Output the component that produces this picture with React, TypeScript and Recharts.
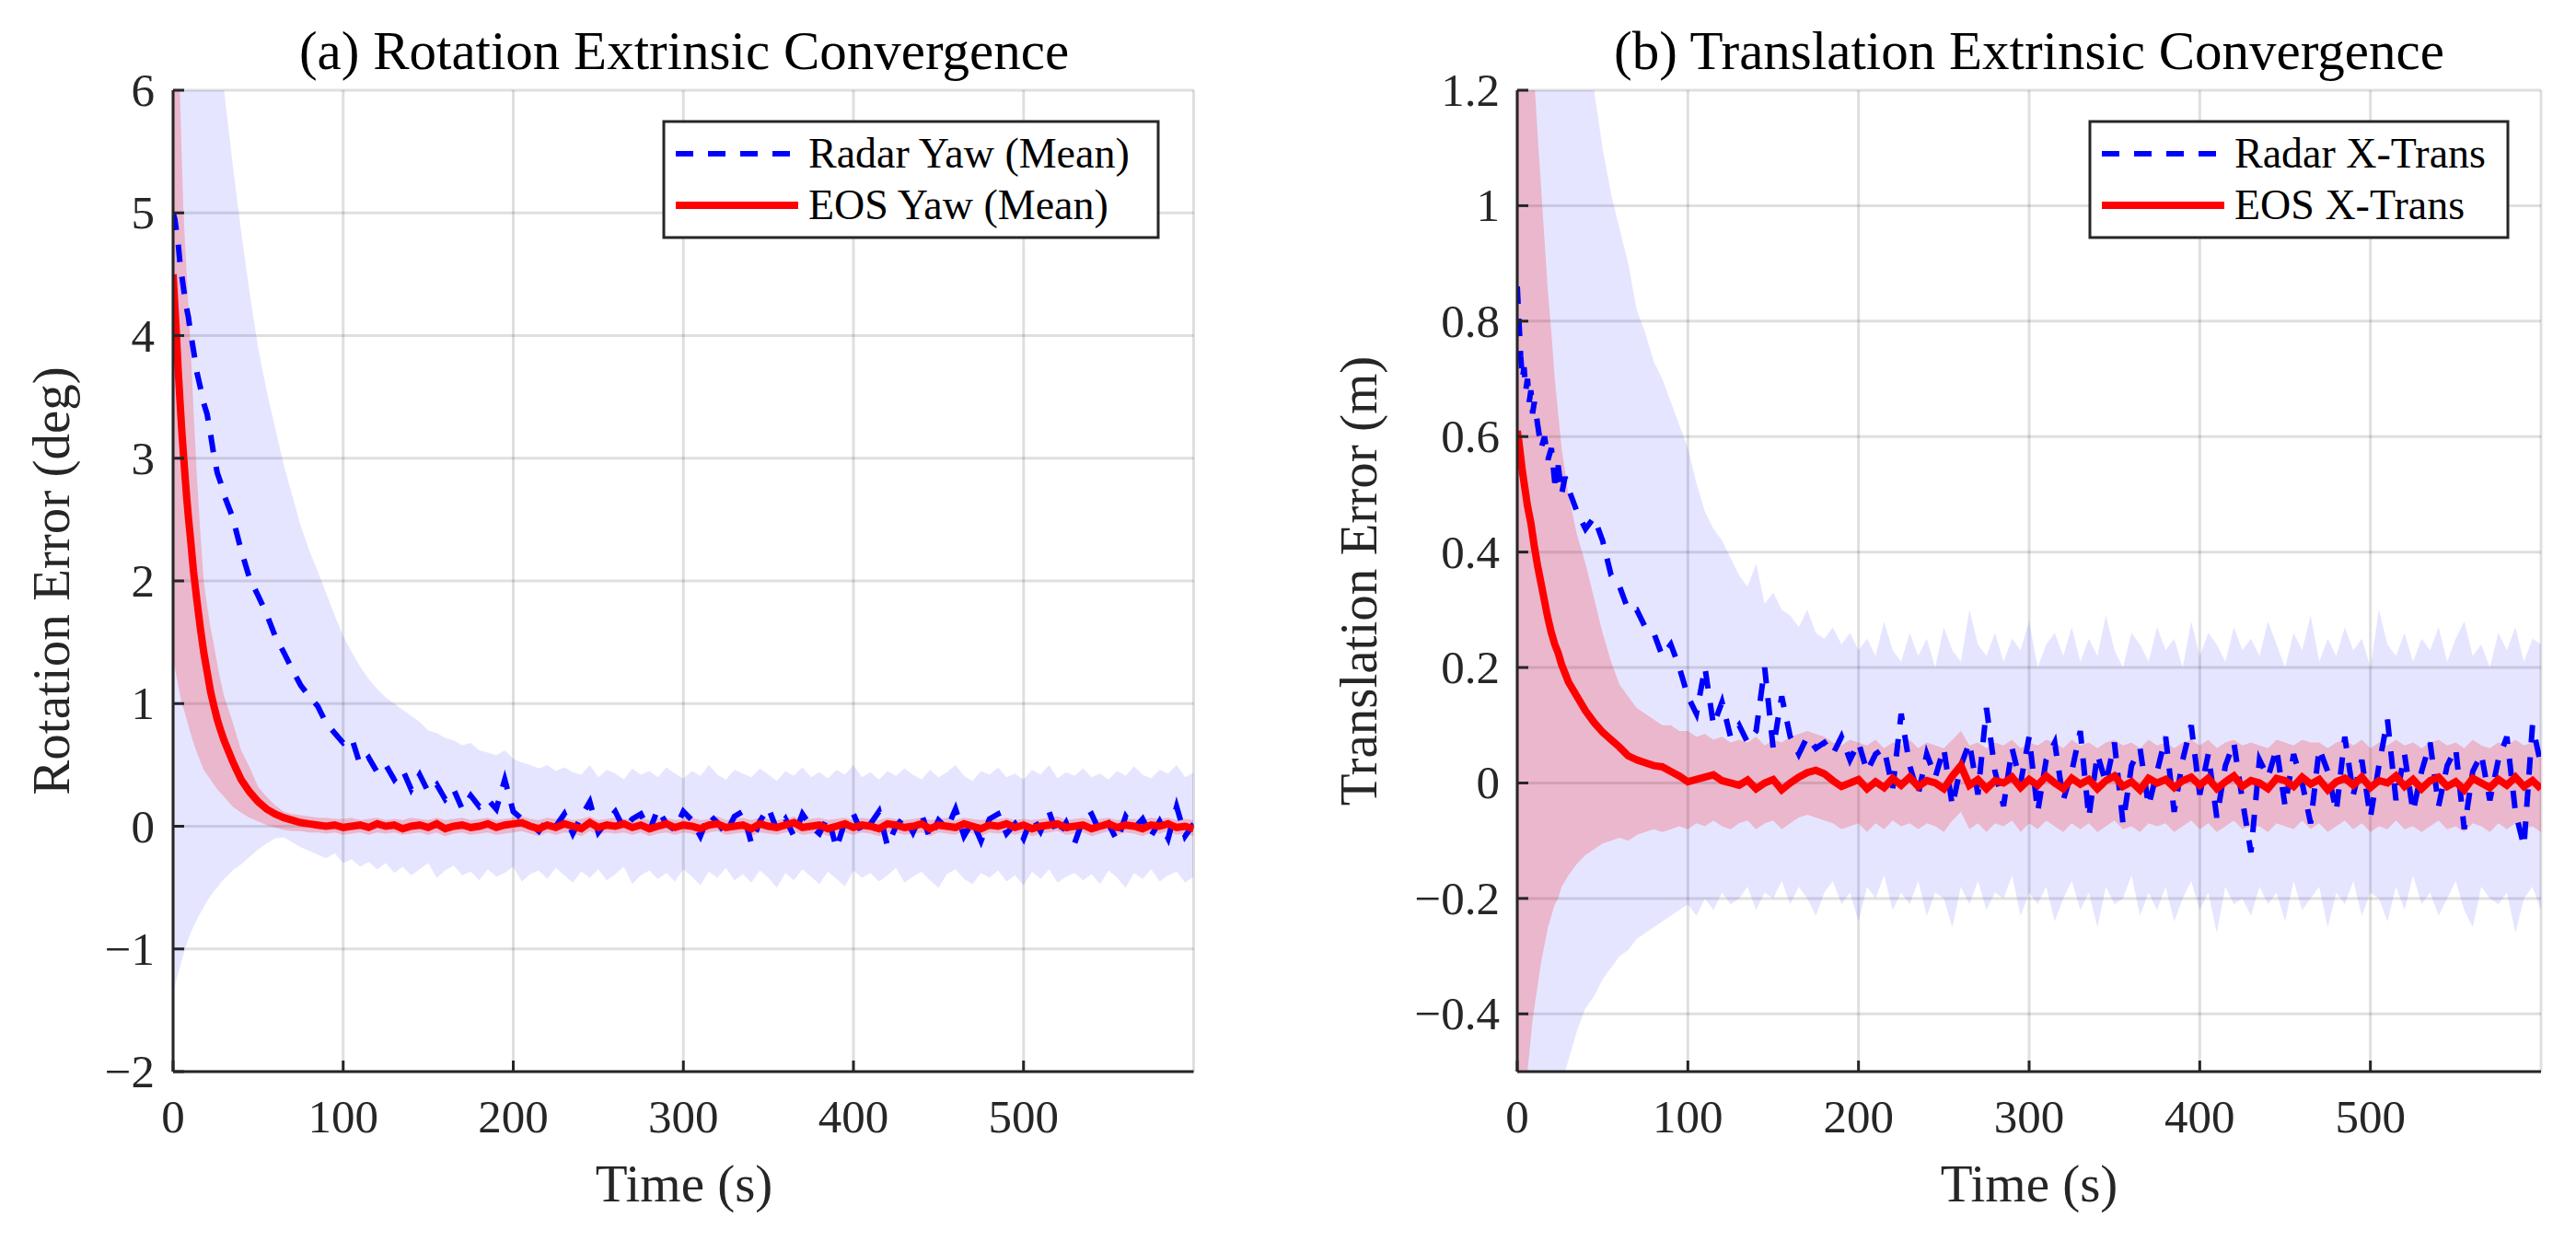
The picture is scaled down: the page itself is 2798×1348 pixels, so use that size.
import React from 'react';
import { ComposedChart, Line, Area, XAxis, YAxis, CartesianGrid } from 'recharts';

// ---------- time axis (s) ----------
const timeS = [
  0, 1, 2, 3, 4, 5, 6, 7, 8, 9, 10,
  12, 14, 16, 18, 20, 22, 24, 26, 28, 30,
  35, 40, 45, 50, 55, 60, 65, 70, 75, 80,
  85, 90, 95, 100, 105, 110, 115, 120, 125, 130,
  135, 140, 145, 150, 155, 160, 165, 170, 175, 180,
  185, 190, 195, 200, 205, 210, 215, 220, 225, 230,
  235, 240, 245, 250, 255, 260, 265, 270, 275, 280,
  285, 290, 295, 300, 305, 310, 315, 320, 325, 330,
  335, 340, 345, 350, 355, 360, 365, 370, 375, 380,
  385, 390, 395, 400, 405, 410, 415, 420, 425, 430,
  435, 440, 445, 450, 455, 460, 465, 470, 475, 480,
  485, 490, 495, 500, 505, 510, 515, 520, 525, 530,
  535, 540, 545, 550, 555, 560, 565, 570, 575, 580,
  585, 590, 595, 600,
];

// ---------- (a) rotation, deg ----------
const radarYawMean = [
  5.0, 4.95, 4.85, 4.75, 4.6, 4.5, 4.4, 4.3, 4.22, 4.15, 4.05,
  3.88, 3.7, 3.58, 3.45, 3.36, 3.2, 3.02, 2.88, 2.8, 2.7,
  2.52, 2.25, 2.02, 1.88, 1.73, 1.55, 1.42, 1.28, 1.15, 1.06,
  0.98, 0.84, 0.76, 0.68, 0.72, 0.5, 0.56, 0.44, 0.5, 0.38,
  0.46, 0.3, 0.42, 0.28, 0.34, 0.22, 0.3, 0.14, 0.25, 0.16,
  0.22, 0.14, 0.38, 0.12, 0.06, 0.02, -0.04, 0.05, 0.0, 0.1,
  -0.06, 0.08, 0.2, -0.05, 0.04, 0.12, -0.02, 0.06, 0.1, -0.04,
  0.14, 0.02, -0.03, 0.12, 0.05, -0.08, 0.1, 0.03, -0.06, 0.08,
  0.12, -0.14, 0.04, 0.15, -0.03, 0.06, -0.08, 0.1, 0.0, -0.06,
  0.08, -0.18, 0.04, 0.1, -0.06, 0.02, 0.12, -0.16, 0.0, 0.08,
  -0.05, 0.1, -0.1, 0.05, -0.02, 0.14, -0.08, 0.04, -0.12, 0.06,
  0.1, -0.06, 0.02, -0.1, 0.08, -0.04, 0.12, -0.08, 0.03, -0.14,
  0.06, 0.1, -0.05, 0.02, -0.12, 0.08, -0.02, 0.06, -0.08, 0.04,
  -0.1, 0.16, -0.08, 0.02,
];
const radarYawLow = [
  -1.35, -1.3, -1.25, -1.2, -1.15, -1.1, -1.05, -1.0, -0.96, -0.92, -0.88,
  -0.82, -0.76, -0.71, -0.66, -0.61, -0.57, -0.53, -0.5, -0.46, -0.43,
  -0.36, -0.31, -0.25, -0.19, -0.14, -0.1, -0.09, -0.13, -0.17, -0.2,
  -0.23, -0.26, -0.22, -0.3, -0.27, -0.33, -0.29, -0.35, -0.3, -0.38,
  -0.33, -0.4, -0.35, -0.3, -0.42, -0.36, -0.32, -0.4, -0.37, -0.44,
  -0.35, -0.41, -0.38, -0.33, -0.45, -0.39, -0.36, -0.43, -0.34, -0.4,
  -0.46, -0.37, -0.42, -0.35, -0.44, -0.39, -0.33, -0.47, -0.4, -0.36,
  -0.43, -0.38, -0.45, -0.35, -0.41, -0.48, -0.37, -0.42, -0.34, -0.44,
  -0.39, -0.46, -0.36, -0.42, -0.5, -0.38, -0.44, -0.35, -0.41, -0.47,
  -0.37, -0.43, -0.49, -0.36, -0.42, -0.38, -0.45, -0.4, -0.34, -0.46,
  -0.41, -0.37, -0.44, -0.5, -0.39, -0.35, -0.43, -0.47, -0.38, -0.42,
  -0.36, -0.45, -0.4, -0.48, -0.37, -0.43, -0.35, -0.46, -0.41, -0.38,
  -0.44, -0.39, -0.47, -0.36, -0.42, -0.5, -0.38, -0.43, -0.35, -0.45,
  -0.4, -0.37, -0.46, -0.41,
];
const radarYawHigh = [
  11.0, 10.6, 10.2, 9.8, 9.4, 9.0, 8.6, 8.3, 8.0, 7.7, 7.5,
  7.2, 6.95, 6.75, 6.55, 6.4, 6.3, 6.2, 6.1, 6.05, 6.0,
  5.4, 4.85, 4.35, 3.9, 3.55, 3.25, 2.95, 2.7, 2.45, 2.25,
  2.08, 1.9, 1.72, 1.55, 1.42, 1.3, 1.2, 1.12, 1.05, 1.0,
  0.95, 0.9, 0.85, 0.78, 0.76, 0.72, 0.7, 0.66, 0.68, 0.62,
  0.6, 0.58, 0.62, 0.55, 0.52, 0.5, 0.47, 0.5, 0.45, 0.48,
  0.44, 0.42, 0.5, 0.4, 0.46, 0.43, 0.38, 0.47, 0.42, 0.45,
  0.4, 0.48, 0.43, 0.39, 0.45, 0.41, 0.5, 0.42, 0.38, 0.46,
  0.43, 0.4, 0.47, 0.42, 0.37, 0.45, 0.41, 0.48, 0.4, 0.44,
  0.39, 0.46, 0.42, 0.5, 0.4, 0.44, 0.38, 0.45, 0.41, 0.47,
  0.42, 0.38, 0.46, 0.4, 0.44, 0.5, 0.41, 0.37, 0.45, 0.42,
  0.48, 0.4, 0.43, 0.38, 0.46, 0.42, 0.5, 0.39, 0.44, 0.41,
  0.47, 0.4, 0.43, 0.38, 0.45, 0.41, 0.49, 0.42, 0.39, 0.46,
  0.43, 0.5, 0.4, 0.44,
];
const eosYawMean = [
  4.5, 4.25, 4.0, 3.72, 3.48, 3.25, 3.05, 2.86, 2.68, 2.52, 2.38,
  2.08, 1.84, 1.62, 1.42, 1.26, 1.1, 0.98, 0.87, 0.78, 0.7,
  0.53, 0.38, 0.28, 0.2, 0.14, 0.1, 0.07, 0.05, 0.03, 0.02,
  0.01, 0.0, 0.01, -0.01, 0.0, 0.01, -0.01, 0.02, 0.0, 0.01,
  -0.02, 0.0, 0.01, -0.01, 0.02, -0.02, 0.0, 0.01, -0.01, 0.0,
  0.02, -0.01, 0.01, 0.02, 0.03, 0.0, -0.02, 0.01, -0.01, 0.02,
  0.0, -0.02, 0.03, -0.01, 0.01, 0.0, 0.02, -0.01, 0.01, -0.02,
  0.0, 0.02, -0.01, 0.01, 0.0, -0.02, 0.01, 0.02, -0.01, 0.0,
  0.01, -0.02, 0.02, 0.0, -0.01, 0.01, 0.03, -0.01, 0.0, 0.01,
  -0.02, 0.0, 0.02, -0.01, 0.01, 0.0, -0.02, 0.02, 0.01, -0.01,
  0.0, 0.02, -0.02, 0.01, 0.0, -0.01, 0.02, 0.0, -0.02, 0.01,
  0.0, 0.02, -0.01, 0.01, -0.02, 0.0, 0.01, 0.02, -0.01, 0.0,
  0.01, -0.02, 0.0, 0.02, -0.01, 0.01, 0.0, -0.02, 0.01, 0.0,
  0.02, -0.01, 0.0, -0.02,
];
const eosYawLow = [
  1.4, 1.3, 1.22, 1.15, 1.08, 1.0, 0.97, 0.92, 0.87, 0.82, 0.77,
  0.68, 0.6, 0.53, 0.46, 0.42, 0.38, 0.34, 0.3, 0.27, 0.24,
  0.16, 0.11, 0.07, 0.04, 0.01, -0.01, -0.03, -0.04, -0.04, -0.05,
  -0.05, -0.06, -0.05, -0.07, -0.06, -0.05, -0.07, -0.05, -0.06, -0.05,
  -0.07, -0.06, -0.05, -0.07, -0.05, -0.08, -0.06, -0.05, -0.07, -0.06,
  -0.05, -0.07, -0.06, -0.05, -0.04, -0.06, -0.08, -0.05, -0.07, -0.05,
  -0.06, -0.08, -0.04, -0.07, -0.05, -0.06, -0.05, -0.07, -0.05, -0.08,
  -0.06, -0.05, -0.07, -0.05, -0.06, -0.08, -0.05, -0.04, -0.07, -0.06,
  -0.05, -0.08, -0.05, -0.06, -0.07, -0.05, -0.04, -0.07, -0.06, -0.05,
  -0.08, -0.06, -0.05, -0.07, -0.05, -0.06, -0.08, -0.05, -0.05, -0.07,
  -0.06, -0.05, -0.08, -0.05, -0.06, -0.07, -0.04, -0.06, -0.08, -0.05,
  -0.06, -0.05, -0.07, -0.05, -0.08, -0.06, -0.05, -0.04, -0.07, -0.06,
  -0.05, -0.08, -0.06, -0.04, -0.07, -0.05, -0.06, -0.08, -0.05, -0.06,
  -0.04, -0.07, -0.06, -0.08,
];
const eosYawHigh = [
  7.6, 7.2, 6.8, 6.4, 6.0, 5.5, 5.05, 4.75, 4.5, 4.25, 4.0,
  3.4, 2.85, 2.4, 2.0, 1.8, 1.62, 1.48, 1.32, 1.18, 1.06,
  0.85, 0.62, 0.48, 0.32, 0.24, 0.17, 0.12, 0.1, 0.09, 0.08,
  0.07, 0.07, 0.06, 0.06, 0.07, 0.05, 0.06, 0.07, 0.05, 0.06,
  0.05, 0.07, 0.06, 0.05, 0.07, 0.05, 0.06, 0.07, 0.05, 0.06,
  0.07, 0.05, 0.06, 0.07, 0.08, 0.06, 0.05, 0.07, 0.06, 0.07,
  0.05, 0.06, 0.08, 0.05, 0.06, 0.07, 0.06, 0.05, 0.07, 0.05,
  0.06, 0.07, 0.05, 0.06, 0.07, 0.05, 0.06, 0.08, 0.05, 0.06,
  0.07, 0.05, 0.07, 0.06, 0.05, 0.06, 0.08, 0.05, 0.06, 0.07,
  0.05, 0.06, 0.07, 0.05, 0.07, 0.06, 0.05, 0.07, 0.06, 0.05,
  0.06, 0.07, 0.05, 0.06, 0.07, 0.05, 0.07, 0.06, 0.05, 0.06,
  0.06, 0.07, 0.05, 0.06, 0.05, 0.06, 0.07, 0.08, 0.05, 0.06,
  0.07, 0.05, 0.06, 0.07, 0.05, 0.06, 0.06, 0.05, 0.07, 0.06,
  0.07, 0.05, 0.06, 0.05,
];

// ---------- (b) translation, m ----------
const radarXMean = [
  0.86, 0.8, 0.74, 0.7, 0.72, 0.68, 0.7, 0.66, 0.68, 0.64, 0.66,
  0.62, 0.58, 0.6, 0.56, 0.58, 0.52, 0.55, 0.5, 0.53, 0.51,
  0.47, 0.44, 0.46, 0.42, 0.36, 0.34, 0.3, 0.3, 0.27, 0.26,
  0.22, 0.24, 0.2, 0.15, 0.12, 0.2, 0.1, 0.14, 0.08, 0.1,
  0.07, 0.09, 0.2, 0.06, 0.15, 0.08, 0.05, 0.08, 0.06, 0.07,
  0.05, 0.08, 0.04, 0.07, 0.02, 0.05, 0.06, -0.01, 0.12, 0.03,
  -0.02, 0.05, 0.01, 0.06, -0.04, 0.03, 0.07, -0.02, 0.13, 0.02,
  -0.04, 0.06, 0.0, 0.08, -0.05, 0.04, 0.07, -0.03, 0.02, 0.09,
  -0.06, 0.05, 0.0, 0.07, -0.07, 0.03, 0.06, -0.04, 0.02, 0.08,
  -0.05, 0.04, 0.1, -0.02, 0.05, -0.06, 0.03, 0.07, -0.03, -0.12,
  0.04, 0.01, 0.06, -0.04, 0.05, 0.0, -0.07, 0.06, 0.02, -0.05,
  0.08, -0.02, 0.04, -0.06, 0.03, 0.11, -0.03, 0.05, -0.05, 0.02,
  0.07, -0.04, 0.03, 0.06, -0.08, 0.02, 0.05, -0.03, 0.04, 0.08,
  -0.05, -0.11, 0.1, 0.03,
];
const radarXLow = [
  -1.05, -1.0, -0.96, -0.92, -0.89, -0.86, -0.83, -0.8, -0.77, -0.75, -0.73,
  -0.7, -0.67, -0.64, -0.61, -0.58, -0.56, -0.54, -0.52, -0.5, -0.48,
  -0.43, -0.39, -0.37, -0.34, -0.32, -0.3, -0.29, -0.27, -0.26, -0.25,
  -0.24, -0.23, -0.22, -0.21, -0.23, -0.2, -0.22, -0.19, -0.21, -0.2,
  -0.18, -0.22, -0.19, -0.2, -0.17, -0.21, -0.18, -0.2, -0.23, -0.19,
  -0.17, -0.21, -0.19, -0.24, -0.18, -0.2, -0.16, -0.22, -0.19, -0.21,
  -0.17, -0.23, -0.19, -0.2, -0.25, -0.18, -0.21, -0.17, -0.22, -0.19,
  -0.2, -0.16, -0.23, -0.19, -0.21, -0.18, -0.24, -0.2, -0.17, -0.22,
  -0.19, -0.25, -0.18, -0.21, -0.2, -0.16, -0.23, -0.19, -0.22, -0.18,
  -0.24, -0.2, -0.17, -0.22, -0.19, -0.26, -0.18, -0.21, -0.2, -0.23,
  -0.18, -0.21, -0.19, -0.24, -0.17, -0.22, -0.2, -0.18, -0.25, -0.19,
  -0.21, -0.17, -0.23, -0.19, -0.2, -0.24, -0.18, -0.22, -0.16, -0.21,
  -0.19, -0.23, -0.2, -0.17, -0.22, -0.25, -0.18, -0.2, -0.21, -0.19,
  -0.26, -0.2, -0.18, -0.22,
];
const radarXHigh = [
  2.6, 2.5, 2.4, 2.32, 2.25, 2.18, 2.12, 2.06, 2.0, 1.95, 1.9,
  1.82, 1.75, 1.68, 1.62, 1.57, 1.52, 1.47, 1.43, 1.39, 1.36,
  1.3, 1.25, 1.2, 1.1, 1.02, 0.96, 0.9, 0.82, 0.78, 0.73,
  0.7, 0.66, 0.62, 0.58, 0.52, 0.47, 0.44, 0.42, 0.39, 0.36,
  0.34, 0.38, 0.31, 0.33, 0.3, 0.29, 0.27, 0.3, 0.26, 0.25,
  0.27, 0.24, 0.26, 0.23, 0.25, 0.22, 0.28, 0.23, 0.21, 0.26,
  0.22, 0.25, 0.2, 0.27, 0.23, 0.21, 0.3, 0.24, 0.22, 0.26,
  0.21, 0.25, 0.23, 0.28, 0.2, 0.24, 0.26, 0.22, 0.27, 0.21,
  0.25, 0.22, 0.29, 0.23, 0.2, 0.26, 0.24, 0.21, 0.27, 0.23,
  0.25, 0.2, 0.28, 0.22, 0.26, 0.24, 0.21, 0.27, 0.23, 0.25,
  0.22, 0.28, 0.24, 0.2, 0.26, 0.23, 0.29, 0.21, 0.25, 0.22,
  0.27, 0.23, 0.25, 0.2, 0.3, 0.24, 0.22, 0.26, 0.21, 0.25,
  0.23, 0.27, 0.21, 0.25, 0.28, 0.22, 0.24, 0.2, 0.26, 0.23,
  0.27, 0.21, 0.25, 0.24,
];
const eosXMean = [
  0.61, 0.59, 0.565, 0.54, 0.52, 0.5, 0.48, 0.465, 0.45, 0.43, 0.41,
  0.375, 0.345, 0.315, 0.285, 0.26, 0.24, 0.225, 0.205, 0.19, 0.175,
  0.15, 0.125, 0.105, 0.088, 0.075, 0.062, 0.047, 0.04, 0.035, 0.03,
  0.028, 0.02, 0.012, 0.002, 0.006, 0.01, 0.014, 0.004, 0.0, -0.004,
  0.005, -0.01, 0.0, 0.006, -0.012, 0.0, 0.01, 0.018, 0.022, 0.016,
  0.004, -0.006, 0.0, 0.006, -0.01, 0.002, -0.008, 0.008, -0.004, 0.01,
  -0.006, 0.004, 0.0, -0.01, 0.012, 0.03, -0.004, 0.006, -0.01, 0.004,
  0.0, 0.01, -0.008, 0.006, -0.004, 0.012, 0.0, -0.01, 0.008, -0.002,
  0.006, -0.01, 0.004, 0.012, -0.006, 0.002, -0.012, 0.008, 0.0, 0.006,
  -0.008, 0.004, 0.01, -0.004, 0.008, -0.01, 0.002, 0.012, -0.006, 0.004,
  0.0, -0.01, 0.008, 0.004, -0.006, 0.01, -0.002, 0.006, -0.012, 0.002,
  0.008, -0.004, 0.01, -0.008, 0.004, 0.0, 0.012, -0.006, 0.006, -0.01,
  0.004, 0.01, -0.006, 0.002, -0.012, 0.008, 0.0, -0.008, 0.006, -0.004,
  0.01, -0.006, 0.004, -0.01,
];
const eosXLow = [
  -0.8, -0.74, -0.68, -0.63, -0.58, -0.54, -0.5, -0.47, -0.44, -0.41, -0.39,
  -0.35, -0.31, -0.28, -0.25, -0.23, -0.21, -0.2, -0.18, -0.17, -0.16,
  -0.14, -0.125, -0.115, -0.105, -0.1, -0.095, -0.1, -0.09, -0.085, -0.08,
  -0.085, -0.08, -0.075, -0.08, -0.07, -0.075, -0.065, -0.075, -0.08, -0.07,
  -0.065, -0.08, -0.07, -0.065, -0.08, -0.07, -0.06, -0.055, -0.06, -0.065,
  -0.07, -0.08, -0.075, -0.07, -0.085, -0.07, -0.08, -0.065, -0.075, -0.07,
  -0.08, -0.07, -0.075, -0.085, -0.065, -0.05, -0.08, -0.07, -0.085, -0.07,
  -0.075, -0.065, -0.085, -0.07, -0.08, -0.065, -0.075, -0.085, -0.07, -0.08,
  -0.07, -0.085, -0.075, -0.065, -0.08, -0.075, -0.085, -0.07, -0.075, -0.07,
  -0.085, -0.075, -0.065, -0.08, -0.07, -0.085, -0.075, -0.065, -0.08, -0.075,
  -0.075, -0.085, -0.07, -0.075, -0.08, -0.065, -0.08, -0.07, -0.085, -0.075,
  -0.065, -0.08, -0.07, -0.085, -0.075, -0.08, -0.065, -0.08, -0.075, -0.085,
  -0.075, -0.065, -0.08, -0.075, -0.085, -0.07, -0.075, -0.085, -0.07, -0.08,
  -0.07, -0.08, -0.075, -0.085,
];
const eosXHigh = [
  1.8, 1.7, 1.6, 1.54, 1.48, 1.43, 1.38, 1.34, 1.3, 1.26, 1.22,
  1.12, 1.03, 0.94, 0.85, 0.78, 0.7, 0.64, 0.58, 0.54, 0.5,
  0.43, 0.38, 0.32, 0.26, 0.21, 0.17, 0.15, 0.13, 0.12, 0.11,
  0.1, 0.1, 0.09, 0.09, 0.08, 0.085, 0.075, 0.08, 0.07, 0.075,
  0.07, 0.08, 0.065, 0.075, 0.07, 0.08, 0.085, 0.09, 0.085, 0.08,
  0.07, 0.065, 0.075, 0.07, 0.065, 0.075, 0.06, 0.07, 0.065, 0.075,
  0.06, 0.07, 0.065, 0.06, 0.075, 0.09, 0.065, 0.07, 0.06, 0.07,
  0.065, 0.075, 0.06, 0.07, 0.065, 0.075, 0.07, 0.06, 0.075, 0.065,
  0.07, 0.06, 0.07, 0.075, 0.065, 0.07, 0.06, 0.075, 0.065, 0.07,
  0.06, 0.07, 0.075, 0.065, 0.075, 0.06, 0.07, 0.075, 0.065, 0.07,
  0.065, 0.06, 0.075, 0.07, 0.065, 0.075, 0.07, 0.07, 0.06, 0.07,
  0.075, 0.065, 0.075, 0.06, 0.07, 0.065, 0.075, 0.065, 0.07, 0.06,
  0.07, 0.075, 0.065, 0.07, 0.06, 0.075, 0.065, 0.06, 0.07, 0.065,
  0.075, 0.065, 0.07, 0.06,
];

// ---------- ticks & labels ----------
const xTicks = [0, 100, 200, 300, 400, 500];
const rotTicks = [-2, -1, 0, 1, 2, 3, 4, 5, 6];
const transTicks = [-0.4, -0.2, 0, 0.2, 0.4, 0.6, 0.8, 1, 1.2];

const FONT = '"Liberation Serif", "Times New Roman", Times, serif';
const AXIS = '#262626';
const BLUE = '#0000FF';
const RED = '#FF0000';

function buildRows(rm: number[], rl: number[], rh: number[], em: number[], el: number[], eh: number[]) {
  return timeS.map((t, i) => ({
    t,
    radar: rm[i],
    radarBand: [rl[i], rh[i]],
    eos: em[i],
    eosBand: [el[i], eh[i]],
  }));
}

const rotRows = buildRows(radarYawMean, radarYawLow, radarYawHigh, eosYawMean, eosYawLow, eosYawHigh);
const transRows = buildRows(radarXMean, radarXLow, radarXHigh, eosXMean, eosXLow, eosXHigh);

function fmt(v: number) {
  return v < 0 ? '\u2212' + String(Math.abs(v)) : String(v);
}

const XTick = (props: any) => {
  const { x, y, payload } = props;
  return (
    <g>
      <line x1={x} y1={y} x2={x} y2={y - 12} stroke={AXIS} strokeWidth={3} />
      <text x={x} y={y + 66} textAnchor="middle" fontFamily={FONT} fontSize={51} fill={AXIS}>
        {fmt(payload.value)}
      </text>
    </g>
  );
};

function makeYTick(gap: number) {
  return (props: any) => {
    const { x, y, payload } = props;
    return (
      <g>
        <line x1={x} y1={y} x2={x + 12} y2={y} stroke={AXIS} strokeWidth={3} />
        <text x={x - gap} y={y + 17} textAnchor="end" fontFamily={FONT} fontSize={51} fill={AXIS}>
          {fmt(payload.value)}
        </text>
      </g>
    );
  };
}

type PanelProps = {
  rows: any[];
  width: number;
  yAxisWidth: number;
  rightMargin: number;
  yDomain: [number, number];
  yTicks: number[];
  gap: number;
};

function Panel({ rows, width, yAxisWidth, rightMargin, yDomain, yTicks, gap }: PanelProps) {
  return (
    <ComposedChart
      width={width}
      height={1348}
      data={rows}
      margin={{ top: 98, right: rightMargin, bottom: 0, left: 0 }}
    >
      <CartesianGrid stroke={AXIS} strokeOpacity={0.15} strokeWidth={3} />
      <XAxis
        type="number"
        dataKey="t"
        domain={[0, 600]}
        ticks={xTicks}
        interval={0}
        allowDataOverflow
        height={184}
        tickLine={false}
        tickSize={0}
        tickMargin={0}
        axisLine={{ stroke: AXIS, strokeWidth: 3 }}
        tick={XTick}
      />
      <YAxis
        type="number"
        domain={yDomain}
        ticks={yTicks}
        interval={0}
        allowDataOverflow
        width={yAxisWidth}
        tickLine={false}
        tickSize={0}
        tickMargin={0}
        axisLine={{ stroke: AXIS, strokeWidth: 3 }}
        tick={makeYTick(gap)}
      />
      <Area
        type="linear"
        dataKey="radarBand"
        stroke="none"
        fill={BLUE}
        fillOpacity={0.1}
        isAnimationActive={false}
      />
      <Area
        type="linear"
        dataKey="eosBand"
        stroke="none"
        fill={RED}
        fillOpacity={0.2}
        isAnimationActive={false}
      />
      <Line
        type="linear"
        dataKey="radar"
        stroke={BLUE}
        strokeWidth={6}
        strokeDasharray="19 16"
        dot={false}
        isAnimationActive={false}
      />
      <Line
        type="linear"
        dataKey="eos"
        stroke={RED}
        strokeWidth={8}
        dot={false}
        isAnimationActive={false}
      />
    </ComposedChart>
  );
}

function LegendBox({ x, w, radarLabel, eosLabel }: { x: number; w: number; radarLabel: string; eosLabel: string }) {
  return (
    <g>
      <rect x={x} y={132} width={w} height={126} fill="#FFFFFF" stroke={AXIS} strokeWidth={3} />
      <line x1={x + 13} y1={167} x2={x + 139} y2={167} stroke={BLUE} strokeWidth={6} strokeDasharray="19 16" />
      <text x={x + 157} y={182} fontFamily={FONT} fontSize={46} fill="#000">{radarLabel}</text>
      <line x1={x + 13} y1={223} x2={x + 146} y2={223} stroke={RED} strokeWidth={8} />
      <text x={x + 157} y={238} fontFamily={FONT} fontSize={46} fill="#000">{eosLabel}</text>
    </g>
  );
}

export default function App() {
  return (
    <div style={{ position: 'absolute', left: 0, top: 0, width: 2798, height: 1348, background: '#FFFFFF' }}>
      <div style={{ position: 'absolute', left: 0, top: 0 }}>
        <Panel rows={rotRows} width={1400} yAxisWidth={188} rightMargin={103.5} yDomain={[-2, 6]} yTicks={rotTicks} gap={20} />
      </div>
      <div style={{ position: 'absolute', left: 1400, top: 0 }}>
        <Panel rows={transRows} width={1398} yAxisWidth={248} rightMargin={38} yDomain={[-0.5, 1.2]} yTicks={transTicks} gap={19} />
      </div>
      <svg
        width={2798}
        height={1348}
        style={{ position: 'absolute', left: 0, top: 0, pointerEvents: 'none' }}
      >
        <text x={743} y={75} textAnchor="middle" fontFamily={FONT} fontSize={59} fill="#000">
          (a) Rotation Extrinsic Convergence
        </text>
        <text x={2204} y={75} textAnchor="middle" fontFamily={FONT} fontSize={59} fill="#000">
          (b) Translation Extrinsic Convergence
        </text>
        <text x={743} y={1305} textAnchor="middle" fontFamily={FONT} fontSize={57} fill={AXIS}>
          Time (s)
        </text>
        <text x={2204} y={1305} textAnchor="middle" fontFamily={FONT} fontSize={57} fill={AXIS}>
          Time (s)
        </text>
        <text x={75} y={631} textAnchor="middle" fontFamily={FONT} fontSize={57} fill={AXIS} transform="rotate(-90 75 631)">
          Rotation Error (deg)
        </text>
        <text x={1495} y={631} textAnchor="middle" fontFamily={FONT} fontSize={57} fill={AXIS} transform="rotate(-90 1495 631)">
          Translation Error (m)
        </text>
        <LegendBox x={721} w={537} radarLabel="Radar Yaw (Mean)" eosLabel="EOS Yaw (Mean)" />
        <LegendBox x={2270} w={454} radarLabel="Radar X-Trans" eosLabel="EOS X-Trans" />
      </svg>
    </div>
  );
}
